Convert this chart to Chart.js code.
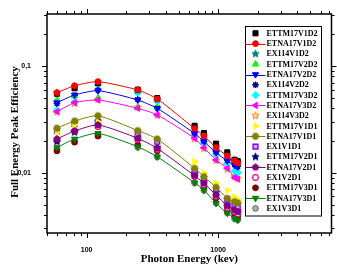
<!DOCTYPE html>
<html><head><meta charset="utf-8">
<script src="https://cdn.jsdelivr.net/npm/chart.js@4/dist/chart.umd.min.js"></script>
<style>html,body{margin:0;padding:0;background:#fff;}canvas{display:block}</style>
</head><body>
<canvas id="c" width="337" height="275"></canvas>
<script>
// ---- data ----
const energies = [59.5, 81, 122, 244.7, 344.3, 661.7, 779, 964, 1173, 1332, 1408];

const ETTM17V1D2 = [0.0550, 0.0618, 0.0690, 0.0600, 0.0500, 0.0275, 0.0235, 0.0187, 0.0155, 0.0132, 0.0128];
const ETNA17V1D2 = [0.0562, 0.0653, 0.0713, 0.0596, 0.0491, 0.0259, 0.0221, 0.0172, 0.01435, 0.0129, 0.0123];
const EX114V1D2  = [0.0560, 0.0640, 0.0700, 0.0590, 0.0485, 0.0262, 0.0222, 0.0175, 0.0146, 0.0131, 0.0125];
const ETTM17V2D2 = [0.0480, 0.0523, 0.0499, 0.0407, 0.0410, 0.0242, 0.0215, 0.0168, 0.0137, 0.0123, 0.0118];
const ETNA17V2D2 = [0.0453, 0.0535, 0.0587, 0.0480, 0.0401, 0.0233, 0.0196, 0.0154, 0.0129, 0.0118, 0.0113];
const EX114V2D2  = [0.0445, 0.0530, 0.0595, 0.0485, 0.0405, 0.0236, 0.0198, 0.0157, 0.0131, 0.0119, 0.0114];
const ETTM17V3D2 = [0.0385, 0.0460, 0.0670, 0.0560, 0.0470, 0.0226, 0.0190, 0.0147, 0.0122, 0.0104, 0.0100];
const ETNA17V3D2 = [0.0373, 0.0453, 0.0480, 0.0401, 0.0348, 0.0210, 0.0171, 0.01315, 0.0110, 0.0090, 0.0087];
const EX114V3D2  = [0.0370, 0.0445, 0.0485, 0.0410, 0.0345, 0.0208, 0.0168, 0.0130, 0.0108, 0.0092, 0.0088];
const ETTM17V1D1 = [0.0239, 0.0280, 0.0300, 0.0212, 0.0207, 0.0127, 0.0099, 0.0080, 0.0068, 0.0059, 0.0056];
const ETNA17V1D1 = [0.0261, 0.0305, 0.0342, 0.0248, 0.0207, 0.0110, 0.00917, 0.0073, 0.00575, 0.00535, 0.0052];
const EX1V1D1    = [0.0245, 0.0285, 0.0300, 0.0235, 0.0195, 0.0104, 0.0088, 0.0070, 0.0056, 0.0050, 0.0048];
const ETTM17V2D1 = [0.0195, 0.0240, 0.0300, 0.0215, 0.0172, 0.0098, 0.0082, 0.0065, 0.0050, 0.0046, 0.0044];
const ETNA17V2D1 = [0.0207, 0.0246, 0.0280, 0.0210, 0.0169, 0.00937, 0.00795, 0.00618, 0.00488, 0.00447, 0.00428];
const EX1V2D1    = [0.0200, 0.0245, 0.0270, 0.0205, 0.0165, 0.0092, 0.0077, 0.0060, 0.0047, 0.0043, 0.0041];
const ETTM17V3D1 = [0.0160, 0.0193, 0.0220, 0.0182, 0.0160, 0.0095, 0.0072, 0.0058, 0.0044, 0.0041, 0.0039];
const ETNA17V3D1 = [0.0172, 0.0207, 0.0234, 0.0175, 0.0141, 0.00805, 0.00689, 0.00516, 0.00417, 0.00374, 0.0036];
const EX1V3D1    = [0.0168, 0.0200, 0.0228, 0.0172, 0.0140, 0.0080, 0.0068, 0.0052, 0.0042, 0.0037, 0.0036];

const xTickLabels = {100: '100', 1000: '1000'};
const yTickLabels = {'-1': '0,1', '-2': '0,01'};
const xTitle = 'Photon Energy (kev)';
const yTitle = 'Full Energy Peak Efficiency';

// ---- marker images ----
function makeShape(kind, fill, stroke, r) {
  const s = Math.ceil(r * 2 + 3);
  const c = document.createElement('canvas');
  c.width = s; c.height = s;
  const g = c.getContext('2d');
  const cx = s / 2, cy = s / 2;
  g.beginPath();
  if (kind === 'star') {
    for (let k = 0; k < 10; k++) {
      const a = -Math.PI / 2 + k * Math.PI / 5;
      const rr = k % 2 ? r * 0.45 : r;
      g.lineTo(cx + rr * Math.cos(a), cy + rr * Math.sin(a));
    }
  } else {
    const n = kind === 'pentagon' ? 5 : 6;
    const off = kind === 'pentagon' ? -Math.PI / 2 : 0;
    for (let k = 0; k < n; k++) {
      const a = off + k * 2 * Math.PI / n;
      g.lineTo(cx + r * Math.cos(a), cy + r * Math.sin(a));
    }
  }
  g.closePath();
  if (fill) { g.fillStyle = fill; g.fill(); }
  if (stroke) { g.strokeStyle = stroke; g.lineWidth = 1; g.stroke(); }
  return c;
}

const styles = [
  {label: 'ETTM17V1D2', values: ETTM17V1D2, color: '#000000', ps: 'rect', r: 3.6},
  {label: 'ETNA17V1D2', values: ETNA17V1D2, color: '#FF0000', ps: 'circle', r: 2.9, line: true},
  {label: 'EX114V1D2',  values: EX114V1D2,  color: '#008080', ps: makeShape('star', '#008080', '#008080', 3.8)},
  {label: 'ETTM17V2D2', values: ETTM17V2D2, color: '#00FF00', ps: 'triangle', r: 3.6},
  {label: 'ETNA17V2D2', values: ETNA17V2D2, color: '#0000FF', ps: 'triangle', rot: 180, r: 3.6, line: true},
  {label: 'EX114V2D2',  values: EX114V2D2,  color: '#000080', ps: 'star', r: 3.3, bw: 1.5},
  {label: 'ETTM17V3D2', values: ETTM17V3D2, color: '#00FFFF', ps: 'rectRot', r: 3.7},
  {label: 'ETNA17V3D2', values: ETNA17V3D2, color: '#FF00FF', ps: 'triangle', rot: -90, r: 3.6, line: true},
  {label: 'EX114V3D2',  values: EX114V3D2,  color: '#FF8000', ps: makeShape('star', '#FFE0C0', '#FF8000', 3.8)},
  {label: 'ETTM17V1D1', values: ETTM17V1D1, color: '#FFFF00', ps: 'triangle', rot: 90, r: 3.6},
  {label: 'ETNA17V1D1', values: ETNA17V1D1, color: '#808000', ps: makeShape('hexagon', '#808000', '#808000', 3.4), line: true},
  {label: 'EX1V1D1',    values: EX1V1D1,    color: '#8000FF', fill: '#D8A8FF', ps: 'rect', r: 3.4, bw: 1.4},
  {label: 'ETTM17V2D1', values: ETTM17V2D1, color: '#000080', ps: makeShape('star', '#000080', '#000080', 3.8)},
  {label: 'ETNA17V2D1', values: ETNA17V2D1, color: '#800080', ps: makeShape('pentagon', '#800080', '#800080', 3.4), line: true},
  {label: 'EX1V2D1',    values: EX1V2D1,    color: '#FF0080', fill: '#FFFFFF', ps: 'circle', r: 2.8, bw: 1.2},
  {label: 'ETTM17V3D1', values: ETTM17V3D1, color: '#800000', ps: 'circle', r: 2.9},
  {label: 'ETNA17V3D1', values: ETNA17V3D1, color: '#008000', ps: 'triangle', rot: 180, r: 3.6, line: true},
  {label: 'EX1V3D1',    values: EX1V3D1,    color: '#707070', fill: '#A8A8A8', ps: 'circle', r: 2.9},
];

const datasets = styles.map((s, i) => ({
  label: s.label,
  data: energies.map((e, k) => ({x: e, y: s.values[k]})),
  order: s.line ? 0 : 1 + i,
  showLine: !!s.line,
  borderColor: s.color,
  backgroundColor: s.fill || s.color,
  borderWidth: 1,
  tension: 0.2,
  pointStyle: s.ps,
  pointRotation: s.rot || 0,
  pointRadius: s.r || 3.5,
  pointBackgroundColor: s.fill || s.color,
  pointBorderColor: s.color,
  pointBorderWidth: s.bw || 1,
}));

function isPow10(v) { const l = Math.log10(v); return Math.abs(l - Math.round(l)) < 1e-9; }
function decadeTicks(min, max) {
  const out = [];
  for (let e = Math.floor(Math.log10(min)); e <= Math.ceil(Math.log10(max)); e++) {
    for (let m = 1; m <= 9; m++) {
      const v = parseFloat((m * Math.pow(10, e)).toPrecision(6));
      if (v >= min * 0.9999 && v <= max * 1.0001) out.push(v);
    }
  }
  return out;
}

const X_MIN = 50, X_MAX = 7270, Y_MIN = 0.00272, Y_MAX = 0.307;

const decorPlugin = {
  id: 'decor',
  afterDraw(chart) {
    const {ctx, chartArea: a, scales: {x, y}} = chart;
    ctx.save();
    ctx.strokeStyle = '#000';
    ctx.lineWidth = 1.5;
    ctx.strokeRect(a.left, a.top, a.right - a.left, a.bottom - a.top);
    ctx.lineWidth = 1;
    ctx.beginPath();
    decadeTicks(X_MIN, X_MAX).forEach(v => {
      const px = Math.round(x.getPixelForValue(v)) + 0.5;
      const L = isPow10(v) ? 5 : 3;
      ctx.moveTo(px, a.bottom); ctx.lineTo(px, a.bottom + L);
      ctx.moveTo(px, a.top); ctx.lineTo(px, a.top - L);
    });
    decadeTicks(Y_MIN, Y_MAX).forEach(v => {
      const py = Math.round(y.getPixelForValue(v)) + 0.5;
      const L = isPow10(v) ? 5 : 3;
      ctx.moveTo(a.left, py); ctx.lineTo(a.left - L, py);
      ctx.moveTo(a.right, py); ctx.lineTo(a.right + L, py);
    });
    ctx.stroke();
    ctx.fillStyle = '#000';
    ctx.font = 'bold 11px "Liberation Serif"';
    ctx.textAlign = 'center';
    ctx.textBaseline = 'middle';
    ctx.fillText(xTitle, (a.left + a.right) / 2, 259);
    ctx.save();
    ctx.translate(15, 132);
    ctx.rotate(-Math.PI / 2);
    ctx.fillText(yTitle, 0, 0);
    ctx.restore();
    const bx = 245.5, by = 26.5, bw = 76, bh = 189.5;
    ctx.fillStyle = '#fff';
    ctx.fillRect(bx, by, bw, bh);
    ctx.strokeStyle = '#000';
    ctx.lineWidth = 1;
    ctx.strokeRect(bx, by, bw, bh);
    ctx.font = 'bold 8px "Liberation Serif"';
    ctx.textAlign = 'left';
    ctx.textBaseline = 'middle';
    chart.data.datasets.forEach((ds, i) => {
      const yy = 33.3 + i * 10.3;
      if (ds.showLine) {
        ctx.strokeStyle = ds.borderColor;
        ctx.lineWidth = 1;
        ctx.beginPath();
        ctx.moveTo(bx, Math.round(yy) + 0.5);
        ctx.lineTo(bx + 20, Math.round(yy) + 0.5);
        ctx.stroke();
      }
      ctx.fillStyle = ds.pointBackgroundColor;
      ctx.strokeStyle = ds.pointBorderColor;
      ctx.lineWidth = ds.pointBorderWidth;
      Chart.helpers.drawPoint(ctx, {
        pointStyle: ds.pointStyle, rotation: ds.pointRotation,
        radius: ds.pointRadius, borderWidth: ds.pointBorderWidth
      }, bx + 10, yy);
      ctx.fillStyle = '#000';
      ctx.fillText(ds.label, bx + 21, yy + 0.5);
    });
    ctx.restore();
  }
};

new Chart(document.getElementById('c'), {
  type: 'line',
  data: {datasets},
  options: {
    responsive: false,
    animation: false,
    devicePixelRatio: 1,
    layout: {padding: {top: 14, right: 5.5, left: 0, bottom: 0}},
    plugins: {legend: {display: false}, tooltip: {enabled: false}},
    scales: {
      x: {
        type: 'logarithmic', min: X_MIN, max: X_MAX,
        grid: {display: false}, border: {display: false},
        ticks: {
          autoSkip: false, maxRotation: 0, padding: 5, color: '#000',
          font: {family: '"Liberation Sans"', size: 7, weight: 'bold'},
          callback: v => isPow10(v) ? (xTickLabels[Math.round(v)] || '') : ''
        },
        afterFit(s) { s.height = 42; }
      },
      y: {
        type: 'logarithmic', min: Y_MIN, max: Y_MAX,
        grid: {display: false}, border: {display: false},
        ticks: {
          autoSkip: false, padding: 8, color: '#000',
          font: {family: '"Liberation Sans"', size: 7, weight: 'bold'},
          callback: v => isPow10(v) ? (yTickLabels[String(Math.round(Math.log10(v)))] || '') : ''
        },
        afterFit(s) { s.width = 47; }
      }
    }
  },
  plugins: [decorPlugin]
});
</script>
</body></html>
